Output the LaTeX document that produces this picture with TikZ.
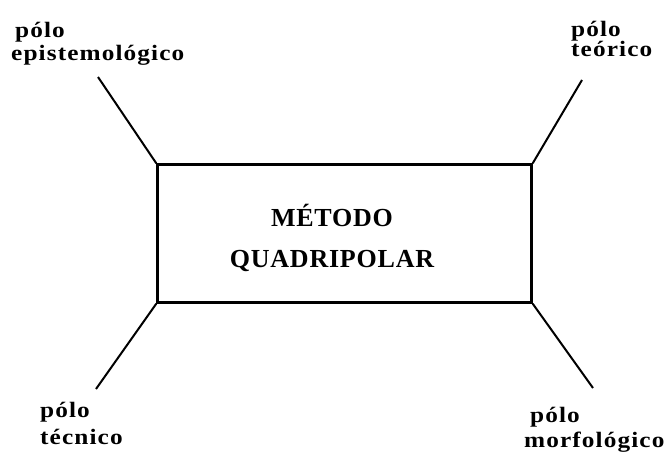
\documentclass[tikz,border=0pt]{standalone}
\usepackage{fontspec}
\setmainfont{Liberation Serif}
\newfontfamily\polofont[FakeStretch=1.15,LetterSpace=5]{Liberation Serif}
\newfontfamily\titlefont[LetterSpace=3]{Liberation Serif}
\begin{document}
\begin{tikzpicture}[x=1pt,y=-1pt,
  polo/.style={anchor=north west, inner sep=0pt, align=left,
    font=\polofont\bfseries\fontsize{22}{24}\selectfont},
  haste/.style={line width=2pt}]
  \useasboundingbox (0,0) rectangle (667,452);
  \node [draw, line width=2.5pt, minimum width=374pt, minimum height=138pt,
    inner sep=0pt] (quadro) at (344.5,233.5) {};
  \node [align=center, font=\titlefont\bfseries\fontsize{26}{41}\selectfont]
    (titulo) at (332,238) {MÉTODO\\QUADRIPOLAR};
  \coordinate (ep) at (98,77);
  \coordinate (te) at (582,80);
  \coordinate (tc) at (96,389);
  \coordinate (mo) at (593,388);
  \node [polo] (epist) at (11,22) {\hspace*{4pt}pólo\\[-1pt]epistemológico};
  \node [polo] (teor) at (571,21) {pólo\\[-4pt]teórico};
  \node [polo] (tecn) at (40,402) {pólo\\[3pt]técnico};
  \node [polo] (morf) at (524,407) {\hspace*{6pt}pólo\\[1pt]morfológico};
  \draw [haste] (quadro.north west) -- (ep);
  \draw [haste] (quadro.north east) -- (te);
  \draw [haste] (quadro.south west) -- (tc);
  \draw [haste] (quadro.south east) -- (mo);
\end{tikzpicture}
\end{document}
